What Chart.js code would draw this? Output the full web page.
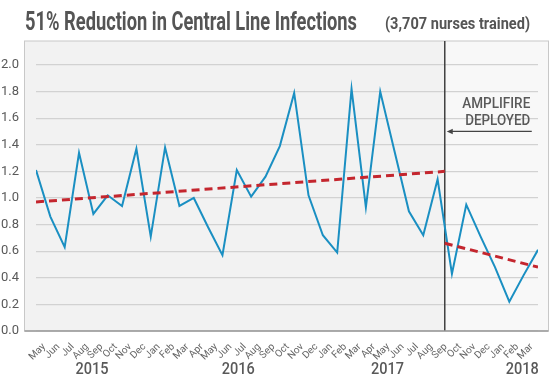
<!DOCTYPE html>
<html>
<head>
<meta charset="utf-8">
<script src="https://cdn.jsdelivr.net/npm/chart.js@4.4.0/dist/chart.umd.min.js"></script>
<style>
html, body { margin: 0; padding: 0; background: #fff; }
</style>
</head>
<body>
<canvas id="grafico" width="554" height="379"></canvas>
<script>
// ----- datos del grafico
const meses = ["May","Jun","Jul","Aug","Sep","Oct","Nov","Dec",
  "Jan","Feb","Mar","Apr","May","Jun","Jul","Aug","Sep","Oct","Nov","Dec",
  "Jan","Feb","Mar","Apr","May","Jun","Jul","Aug","Sep","Oct","Nov","Dec",
  "Jan","Feb","Mar",""];
const infecciones = [1.21,0.86,0.63,1.34,0.88,1.02,0.94,1.37,
  0.71,1.38,0.94,1.00,0.78,0.57,1.21,1.01,1.16,1.39,1.79,1.02,
  0.72,0.59,1.82,0.93,1.80,1.35,0.90,0.72,1.14,0.43,0.95,0.71,
  0.48,0.22,0.42,0.61];
const tendenciaAntesX = [0, 28.5];
const tendenciaAntesY = [0.97, 1.20];
const tendenciaDespuesX = [28.5, 35];
const tendenciaDespuesY = [0.66, 0.48];
const despliegue = 28.5;
const anios = ["2015","2016","2017","2018"];
const aniosPos = [3.9, 14.1, 24.5, 33.9];
const ticksY = [0,0.2,0.4,0.6,0.8,1.0,1.2,1.4,1.6,1.8,2.0];

const titulo = "51% Reduction in Central Line Infections";
const subtitulo = "(3,707 nurses trained)";

// texto comprimido a un ancho dado (la fuente original es condensada)
function textoAjustado(ctx, texto, x, y, ancho, font, align) {
    ctx.font = font;
    const w = ctx.measureText(texto).width;
    const esc = ancho / w;
    ctx.save();
    ctx.translate(x, y);
    ctx.scale(esc, 1);
    ctx.textAlign = align || 'left';
    ctx.fillText(texto, 0, 0);
    ctx.restore();
}

const fondo = {
    id: 'fondo',
    beforeDraw(chart) {
        const ctx = chart.ctx;
        const a = chart.chartArea;
        const xd = chart.scales.x.getPixelForValue(despliegue);
        const izq = a.left - 11.5, der = a.right + 10.5;
        ctx.save();
        ctx.fillStyle = '#f2f2f2';
        ctx.fillRect(izq, a.top, xd - izq, a.bottom - a.top);
        ctx.fillStyle = '#f8f8f8';
        ctx.fillRect(xd, a.top, der - xd, a.bottom - a.top);
        ctx.strokeStyle = '#c8c8c8';
        ctx.lineWidth = 1;
        ctx.strokeRect(izq, a.top, der - izq, a.bottom - a.top);

        // titulo
        ctx.fillStyle = '#555555';
        ctx.textBaseline = 'alphabetic';
        textoAjustado(ctx, titulo, 25, 29.5, 332, 'bold 25px Roboto');
        textoAjustado(ctx, subtitulo, 385, 29, 145, 'bold 17px Roboto');
        ctx.restore();
    },
    beforeDatasetsDraw(chart) {
        const ctx = chart.ctx;
        const a = chart.chartArea;
        const xd = chart.scales.x.getPixelForValue(despliegue);
        ctx.save();
        ctx.strokeStyle = '#404040';
        ctx.lineWidth = 1.5;
        ctx.beginPath();
        ctx.moveTo(xd, a.top);
        ctx.lineTo(xd, a.bottom);
        ctx.stroke();
        ctx.restore();
    },
    afterDraw(chart) {
        const ctx = chart.ctx;
        const a = chart.chartArea;
        const xs = chart.scales.x, ys = chart.scales.y;
        const xd = xs.getPixelForValue(despliegue);
        ctx.save();
        // linea inferior
        ctx.strokeStyle = '#9a9a9a';
        ctx.lineWidth = 1.5;
        ctx.beginPath();
        ctx.moveTo(a.left - 11.5, a.bottom);
        ctx.lineTo(a.right + 10.5, a.bottom);
        ctx.stroke();

        // anios
        ctx.fillStyle = '#595959';
        ctx.textBaseline = 'alphabetic';
        for (let i = 0; i < anios.length; i++) {
            textoAjustado(ctx, anios[i], xs.getPixelForValue(aniosPos[i]), 374, 33, '500 16px Roboto', 'center');
        }

        // anotacion
        const yFlecha = ys.getPixelForValue(1.5);
        textoAjustado(ctx, "AMPLIFIRE", xd + 51.5, yFlecha - 23, 68, '500 14px Roboto', 'center');
        textoAjustado(ctx, "DEPLOYED", xd + 53, yFlecha - 6, 65, '500 14px Roboto', 'center');
        ctx.strokeStyle = '#444';
        ctx.fillStyle = '#444';
        ctx.lineWidth = 1.2;
        ctx.beginPath();
        ctx.moveTo(xd + 87, yFlecha);
        ctx.lineTo(xd + 6, yFlecha);
        ctx.stroke();
        ctx.beginPath();
        ctx.moveTo(xd + 2, yFlecha);
        ctx.lineTo(xd + 8, yFlecha - 2.8);
        ctx.lineTo(xd + 8, yFlecha + 2.8);
        ctx.closePath();
        ctx.fill();
        ctx.restore();
    }
};

const graph = document.getElementById('grafico');
const myChart = new Chart(graph, {
    type: 'line',
    data: {
        datasets: [{
            label: 'Infections',
            data: infecciones.map((v, i) => ({x: i, y: v})),
            borderColor: '#1a8fc2',
            borderWidth: 2,
            pointRadius: 0,
            tension: 0,
            fill: false,
            order: 2
        }, {
            label: 'Trend before',
            data: tendenciaAntesX.map((x, i) => ({x: x, y: tendenciaAntesY[i]})),
            borderColor: '#c4262e',
            borderWidth: 3,
            borderDash: [8, 5],
            pointRadius: 0,
            fill: false,
            order: 1
        }, {
            label: 'Trend after',
            data: tendenciaDespuesX.map((x, i) => ({x: x, y: tendenciaDespuesY[i]})),
            borderColor: '#c4262e',
            borderWidth: 3,
            borderDash: [8, 5],
            pointRadius: 0,
            fill: false,
            order: 1
        }]
    },
    options: {
        responsive: false,
        animation: false,
        devicePixelRatio: 1,
        layout: { padding: { top: 41, right: 16, left: 0, bottom: 0 } },
        plugins: {
            legend: { display: false },
            tooltip: { enabled: false }
        },
        scales: {
            x: {
                type: 'linear',
                min: 0,
                max: 35,
                afterBuildTicks: s => { s.ticks = meses.map((m, i) => ({value: i})); },
                afterFit: s => { s.height = 48; },
                grid: { display: false },
                border: { display: false },
                ticks: {
                    autoSkip: false,
                    maxRotation: 45,
                    minRotation: 45,
                    labelOffset: 8,
                    padding: 2,
                    color: '#666',
                    font: { family: 'Roboto', size: 10 },
                    callback: v => meses[v] || ''
                }
            },
            y: {
                min: 0,
                max: 2.18,
                afterBuildTicks: s => { s.ticks = ticksY.map(v => ({value: v})); },
                afterFit: s => { s.width = 36; },
                grid: { color: '#d2d2d2', lineWidth: 1.2, drawTicks: false },
                border: { display: false },
                ticks: {
                    padding: 17,
                    color: '#595959',
                    font: { family: 'Roboto', size: 13 },
                    callback: v => v.toFixed(1)
                }
            }
        }
    },
    plugins: [fondo]
});
</script>
</body>
</html>
